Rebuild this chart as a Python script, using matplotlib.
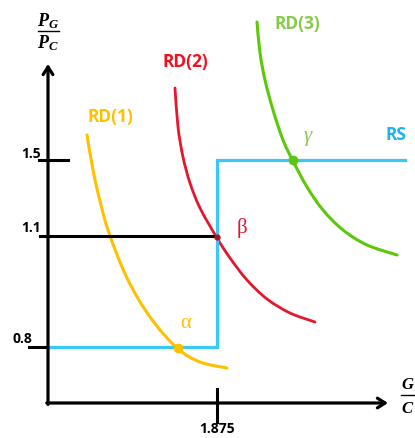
import matplotlib
matplotlib.use('Agg')
import matplotlib.pyplot as plt
import numpy as np
from matplotlib.path import Path
from matplotlib.patches import PathPatch

plt.rcParams['mathtext.fontset'] = 'custom'
plt.rcParams['mathtext.it'] = 'Liberation Serif:italic:bold'
plt.rcParams['mathtext.rm'] = 'Liberation Serif:bold'

# schematic drawn on a pixel-like grid (x right, y down)
origin = (48, 403)
x_end = 388
y_end = 64

# price ratio levels and their height on the vertical axis
price_labels = ['0.8', '1.1', '1.5']
price_pos = [347, 236, 160]
qty_label = '1.875'
qty_pos = 217

# relative supply: flat at 0.8, vertical at 1.875, flat again at 1.5
rs_x = [48, 217, 217, 405]
rs_y = [347, 347, 160, 160]

# relative demand curves
rd1_x = [87, 93, 100, 109, 127, 150, 177, 200, 227]
rd1_y = [135, 170, 201, 233, 278, 317, 348, 362, 368]
rd2_x = [175, 178, 183, 190, 200, 217, 230, 247, 267, 290, 315]
rd2_y = [88, 127, 157, 183, 208, 238, 258, 280, 299, 313, 322]
rd3_x = [257, 260, 265, 273, 283, 293, 307, 323, 343, 367, 397]
rd3_y = [22, 53, 80, 110, 140, 161, 187, 210, 230, 245, 255]

# equilibria
eq_x = [178, 217, 293]
eq_y = [348, 237, 160]

orange = '#FFC000'
red = '#E5172C'
green = '#5CC80A'
blue = '#3AC8F5'


def smooth_curve(ax, xs, ys, **kw):
    # Catmull-Rom through the points, handed to matplotlib as cubic Beziers
    p = np.column_stack([xs, ys]).astype(float)
    p = np.vstack([p[0], p, p[-1]])
    verts = [p[1]]
    codes = [Path.MOVETO]
    for i in range(1, len(p) - 2):
        c1 = p[i] + (p[i + 1] - p[i - 1]) / 6
        c2 = p[i + 1] - (p[i + 2] - p[i]) / 6
        verts += [c1, c2, p[i + 1]]
        codes += [Path.CURVE4] * 3
    ax.add_patch(PathPatch(Path(verts, codes), fill=False, capstyle='round', **kw))


fig = plt.figure(figsize=(4.15, 4.38), dpi=100)
ax = fig.add_axes([0, 0, 1, 1])
ax.set_xlim(0, 415)
ax.set_ylim(438, 0)
ax.axis('off')

# axes with arrow heads
arrow = dict(arrowstyle='->,head_length=0.55,head_width=0.35', lw=2.3, color='black',
             shrinkA=0, shrinkB=0)
ax.annotate('', xy=(origin[0], y_end), xytext=(origin[0], origin[1] + 1.5), arrowprops=arrow)
ax.annotate('', xy=(x_end, origin[1]), xytext=(origin[0] - 1.2, origin[1]), arrowprops=arrow)

# ticks on the price axis
ax.plot([39, 68], [price_pos[2], price_pos[2]], color='black', lw=2.2)
ax.plot([40, qty_pos], [price_pos[1], price_pos[1]], color='black', lw=2.2)
ax.plot([29, 48], [price_pos[0], price_pos[0]], color='black', lw=2.2)
ax.plot([qty_pos, qty_pos], [389, 422], color='black', lw=2.2)

tick_font = dict(family='Open Sans', weight='bold', fontsize=10, color='black')
ax.text(31, price_pos[2] - 6, price_labels[2], ha='center', va='center', **tick_font)
ax.text(31, price_pos[1] - 8, price_labels[1], ha='center', va='center', **tick_font)
ax.text(22, price_pos[0] - 8, price_labels[0], ha='center', va='center', **tick_font)
ax.text(qty_pos, 429, qty_label, ha='center', va='center', **tick_font)

# axis titles as fractions
ax.text(48, 21, '$P_G$', ha='center', va='center', fontsize=13)
ax.plot([38, 59], [31, 31], color='black', lw=1.0)
ax.text(48, 43, '$P_C$', ha='center', va='center', fontsize=13)
ax.text(408, 384, '$G$', ha='center', va='center', fontsize=12)
ax.plot([401, 415], [395, 395], color='black', lw=1.0)
ax.text(408, 408, '$C$', ha='center', va='center', fontsize=12)

# curves
ax.plot(rs_x, rs_y, color=blue, lw=2.3, solid_joinstyle='miter')
smooth_curve(ax, rd1_x, rd1_y, edgecolor=orange, lw=2.2)
smooth_curve(ax, rd2_x, rd2_y, edgecolor=red, lw=2.0)
smooth_curve(ax, rd3_x, rd3_y, edgecolor=green, lw=2.2)

ax.plot(eq_x[0], eq_y[0], marker='o', ms=6, color=orange)
ax.plot(eq_x[1], eq_y[1], marker='o', ms=3.5, color='#B0101E')
ax.plot(eq_x[2], eq_y[2], marker='o', ms=6, color=green)

# curve names
name_font = dict(family='Open Sans', weight='bold', fontsize=12.5)
ax.text(110, 117, 'RD(1)', color=orange, ha='center', va='center', **name_font)
ax.text(185, 62, 'RD(2)', color='#F0101E', ha='center', va='center', **name_font)
ax.text(297, 24, 'RD(3)', color='#86CC48', ha='center', va='center', **name_font)
ax.text(396, 135, 'RS', color='#1DB2F0', ha='center', va='center', **name_font)

greek = dict(family='Liberation Serif', fontsize=15, ha='center', va='center')
ax.text(186, 323, 'α', color=orange, **greek)
ax.text(242, 228, 'β', color=red, **greek)
ax.text(308, 137, 'γ', color='#8CC84E', style='italic', **greek)

fig.savefig('out.png', dpi=100)
